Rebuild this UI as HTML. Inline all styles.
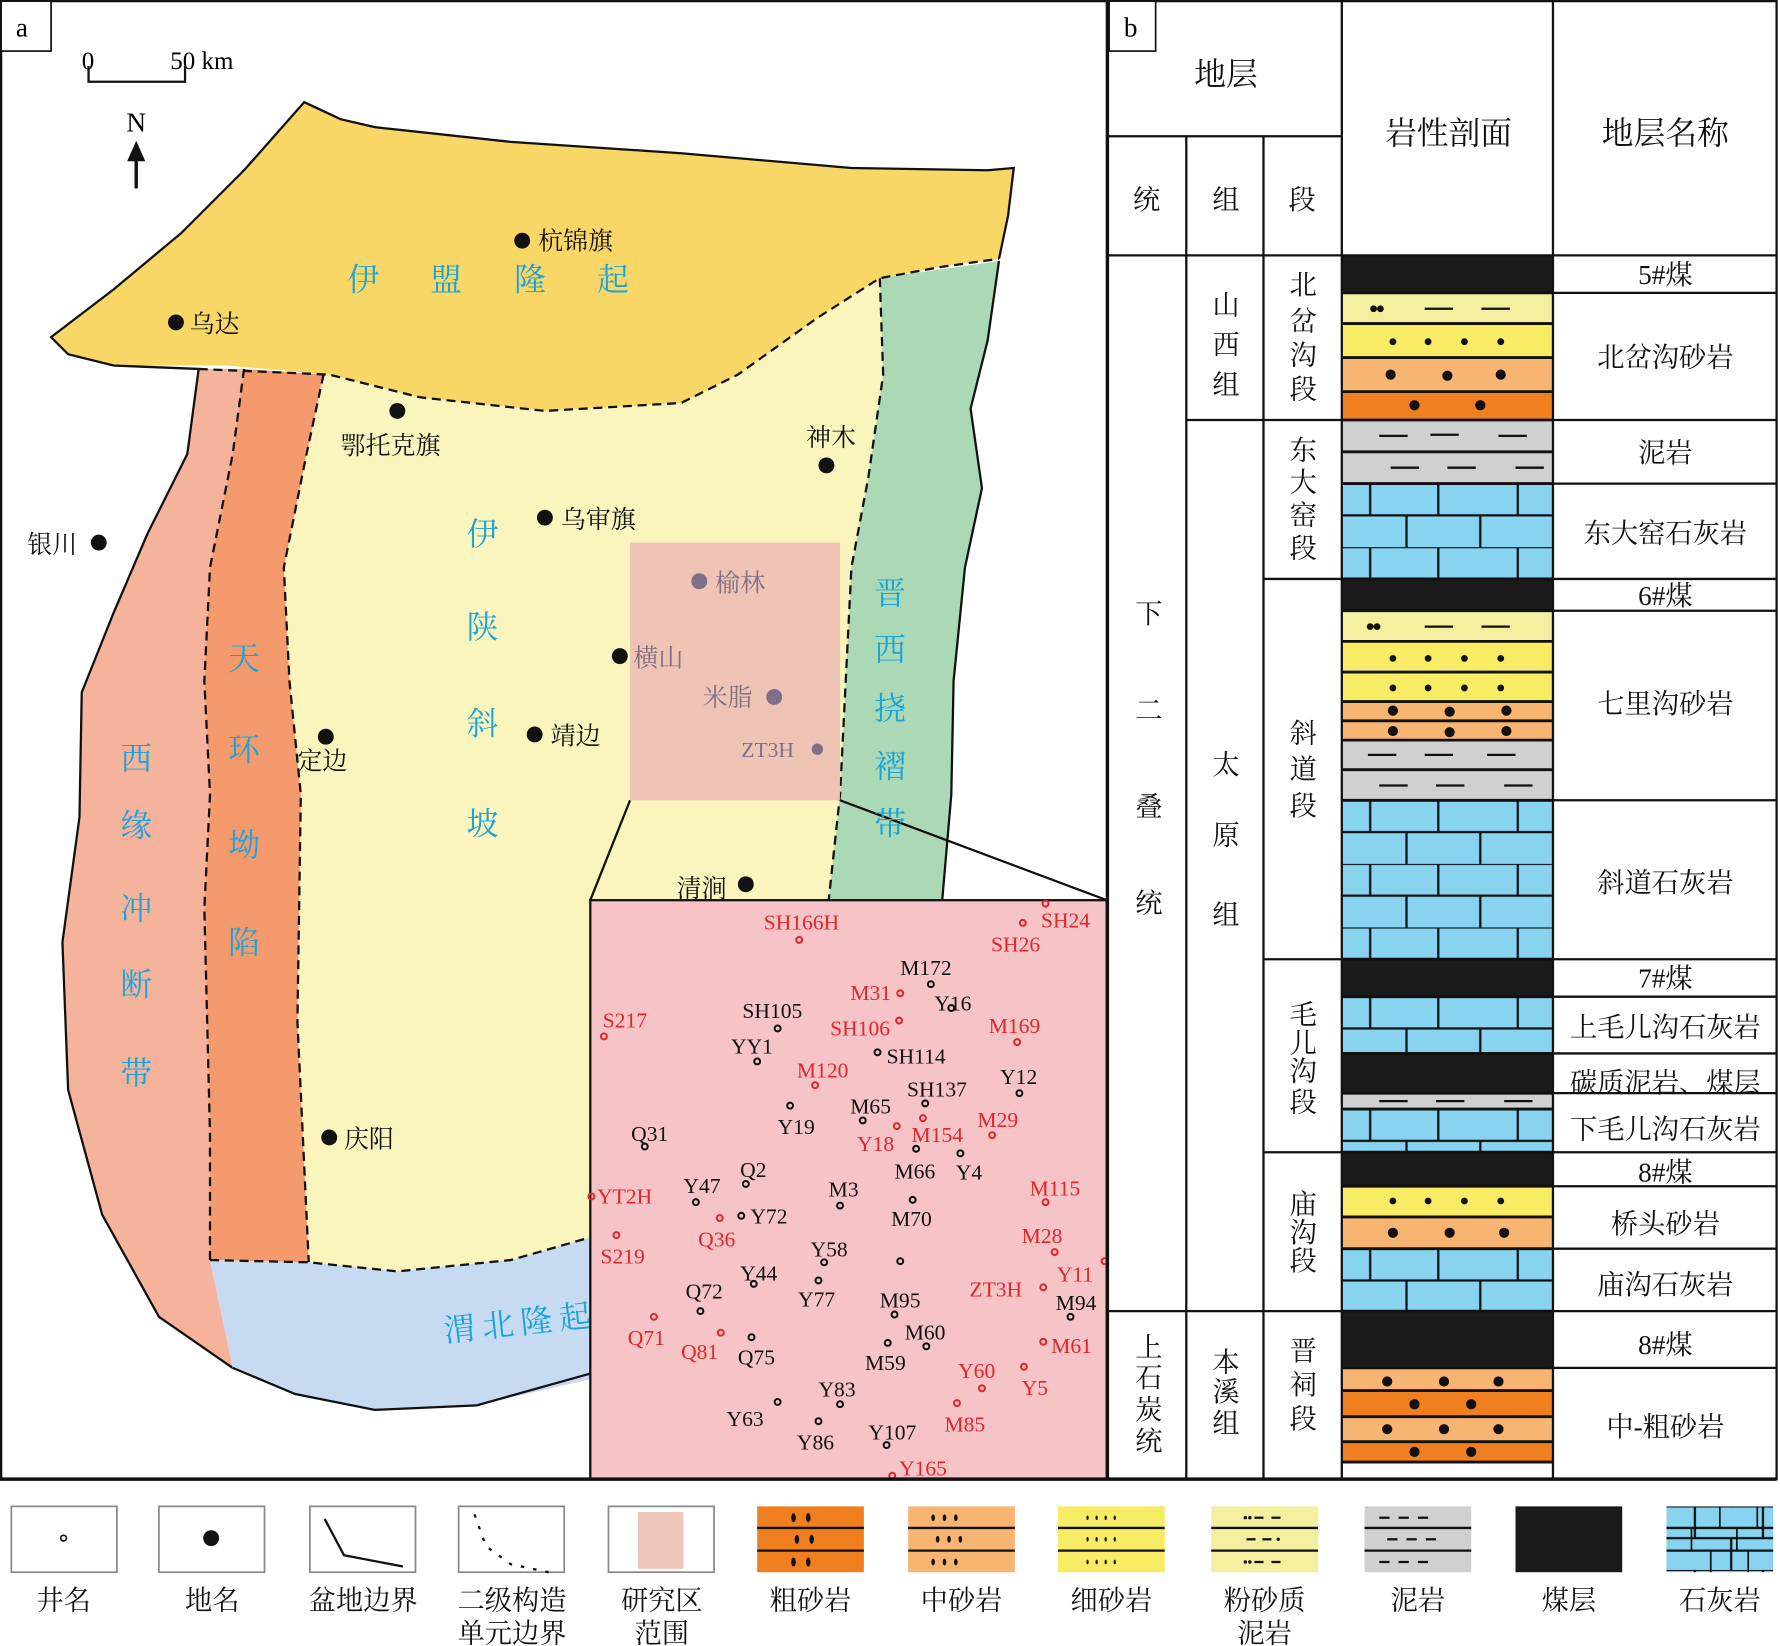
<!DOCTYPE html>
<html><head><meta charset="utf-8">
<style>
html,body{margin:0;padding:0;background:#fff;}
svg{display:block;}
text{font-family:"Liberation Serif","Noto Serif CJK SC","Noto Sans CJK SC",serif;}
.cn{font-family:"Liberation Serif","Noto Serif CJK SC",serif;}
.w{font-size:19px;}
.r{fill:#e0262a;}
.b{fill:#111;}
.bl{fill:#1aa3d9;font-size:28px;}
.pl{font-size:22px;fill:#111;}
.h{font-size:28px;fill:#111;text-anchor:middle;}
.t{font-size:24px;fill:#111;text-anchor:middle;}
.lg{font-size:24px;fill:#111;text-anchor:middle;}
</style></head>
<body>
<svg width="1780" height="1646" viewBox="0 0 1568 1450" preserveAspectRatio="none" xmlns="http://www.w3.org/2000/svg">
<defs>
<pattern id="ls" patternUnits="userSpaceOnUse" width="130" height="56">
<rect width="130" height="56" fill="#87d3f0"/>
<line x1="0" y1="28" x2="130" y2="28" stroke="#111" stroke-width="2"/>
<line x1="0" y1="0" x2="130" y2="0" stroke="#111" stroke-width="2"/>
<line x1="25" y1="0" x2="25" y2="28" stroke="#111" stroke-width="2"/>
<line x1="85" y1="0" x2="85" y2="28" stroke="#111" stroke-width="2"/>
<line x1="57" y1="28" x2="57" y2="56" stroke="#111" stroke-width="2"/>
<line x1="122" y1="28" x2="122" y2="56" stroke="#111" stroke-width="2"/>
</pattern>
</defs>
<rect width="1568" height="1450" fill="#fff"/>

<!-- MAP -->
<polygon points="175,325 290,330 370,350 480,362 600,355 650,330 720,280 775,245 880,230 870,300 855,360 865,430 850,500 840,600 838,700 830,793 520,793 520,1095 450,1110 350,1120 272,1112 185,1110" fill="#faf5bd"/>
<polygon points="775,245 880,230 870,300 855,360 865,430 850,500 840,600 838,700 830,793 730,793 740,700 745,600 750,500 765,420 778,330" fill="#acd9b5"/>
<path d="M880,230 L870,300 L855,360 L865,430 L850,500 L840,600 L838,700 L830,793" fill="none" stroke="#111" stroke-width="2"/>
<path d="M775,245 L778,330 L765,420 L750,500 L745,600 L740,700 L730,793" fill="none" stroke="#111" stroke-width="2" stroke-dasharray="8,5"/>
<polygon points="175,325 215,325 205,400 185,500 180,600 185,700 180,800 185,1000 185,1110 205,1205 140,1160 90,1070 60,960 55,830 70,720 72,610 100,540 130,470 165,400" fill="#f5b39b"/>
<path d="M175,325 L165,400 L130,470 L100,540 L72,610 L70,720 L55,830 L60,960 L90,1070 L140,1160 L205,1205" fill="none" stroke="#111" stroke-width="2"/>
<polygon points="215,325 285,330 270,400 250,500 255,600 265,700 262,900 272,1112 185,1110 185,1000 180,800 185,700 180,600 185,500 205,400" fill="#f59a6c"/>
<path d="M215,325 L205,400 L185,500 L180,600 L185,700 L180,800 L185,1000 L185,1110" fill="none" stroke="#111" stroke-width="2" stroke-dasharray="8,5"/>
<path d="M285,330 L270,400 L250,500 L255,600 L265,700 L262,900 L272,1112" fill="none" stroke="#111" stroke-width="2" stroke-dasharray="8,5"/>
<polygon points="185,1110 272,1112 350,1120 450,1110 520,1090 520,1215 420,1238 330,1242 260,1228 205,1205" fill="#c6dbf1"/>
<path d="M205,1205 L260,1228 L330,1242 L420,1238 L520,1210" fill="none" stroke="#111" stroke-width="2"/>
<path d="M185,1110 L272,1112 L350,1120 L450,1110 L520,1090" fill="none" stroke="#111" stroke-width="2" stroke-dasharray="8,5"/>
<polygon points="45,297 100,255 160,205 215,150 268,90 300,105 330,112 450,125 600,135 750,148 870,150 893,148 888,190 880,228 830,235 775,245 720,280 650,330 600,355 480,362 370,350 290,330 200,322 100,322 60,312" fill="#f9d766"/>
<path d="M880,228 L888,190 L893,148 L870,150 L750,148 L600,135 L450,125 L330,112 L300,105 L268,90 L215,150 L160,205 L100,255 L45,297 L60,312 L100,322 L175,325" fill="none" stroke="#111" stroke-width="2"/>
<path d="M175,325 L290,330 L370,350 L480,362 L600,355 L650,330 L720,280 L775,245 L830,235 L880,228" fill="none" stroke="#111" stroke-width="2" stroke-dasharray="8,5"/>

<rect x="555" y="478" width="185" height="227" fill="#eebfb4" opacity="0.9"/>
<line x1="555" y1="705" x2="520" y2="793" stroke="#111" stroke-width="2"/>
<line x1="740" y1="705" x2="975" y2="793" stroke="#111" stroke-width="2"/>

<text class="bl cn" x="320" y="256" text-anchor="middle">伊</text>
<text class="bl cn" x="393" y="256" text-anchor="middle">盟</text>
<text class="bl cn" x="467" y="256" text-anchor="middle">隆</text>
<text class="bl cn" x="540" y="256" text-anchor="middle">起</text>
<g text-anchor="middle" class="bl cn">
<text class="bl" x="425" y="480">伊</text><text class="bl" x="425" y="562">陕</text><text class="bl" x="425" y="647">斜</text><text class="bl" x="425" y="735">坡</text>
<text class="bl" x="784" y="532">晋</text><text class="bl" x="784" y="582">西</text><text class="bl" x="784" y="634">挠</text><text class="bl" x="784" y="685">褶</text><text class="bl" x="784" y="735">带</text>
<text class="bl" x="215" y="590">天</text><text class="bl" x="215" y="670">环</text><text class="bl" x="215" y="754">坳</text><text class="bl" x="215" y="840">陷</text>
<text class="bl" x="120" y="678">西</text><text class="bl" x="120" y="737">缘</text><text class="bl" x="120" y="810">冲</text><text class="bl" x="120" y="877">断</text><text class="bl" x="120" y="955">带</text>
</g>
<text class="bl cn" x="392" y="1182" transform="rotate(-6 392 1182)" letter-spacing="6">渭北隆起</text>

<g fill="#111">
<circle cx="460" cy="212" r="7"/><circle cx="155" cy="284" r="7"/><circle cx="350" cy="362" r="7"/><circle cx="728" cy="410" r="7"/>
<circle cx="480" cy="456" r="7"/><circle cx="87" cy="478" r="7"/><circle cx="546" cy="578" r="7"/><circle cx="287" cy="649" r="7"/>
<circle cx="471" cy="647" r="7"/><circle cx="657" cy="779" r="7"/><circle cx="290" cy="1002" r="7"/>
</g>
<g fill="#7d7187"><circle cx="616" cy="512" r="7"/><circle cx="682" cy="614" r="7"/><circle cx="720" cy="660" r="5"/></g>
<text class="pl cn" x="474" y="220">杭锦旗</text>
<text class="pl cn" x="167" y="293">乌达</text>
<text class="pl cn" x="300" y="400">鄂托克旗</text>
<text class="pl cn" x="710" y="393">神木</text>
<text class="pl cn" x="494" y="465">乌审旗</text>
<text class="pl cn" x="24" y="487">银川</text>
<text class="pl cn" x="630" y="521" style="fill:#7d7187">榆林</text>
<text class="pl cn" x="558" y="587" style="fill:#7d7187">横山</text>
<text class="pl cn" x="619" y="622" style="fill:#7d7187">米脂</text>
<text x="653" y="667" style="fill:#7d7187;font-size:19px">ZT3H</text>
<text class="pl cn" x="262" y="678">定边</text>
<text class="pl cn" x="485" y="656">靖边</text>
<text class="pl cn" x="596" y="790">清涧</text>
<text class="pl cn" x="303" y="1011">庆阳</text>

<text x="72" y="61" style="font-size:22px">0</text>
<text x="150" y="61" style="font-size:22px">50 km</text>
<path d="M78,58 L78,72 L163,72 L163,58" fill="none" stroke="#111" stroke-width="2"/>
<text x="120" y="116" text-anchor="middle" style="font-size:24px">N</text>
<line x1="120" y1="135" x2="120" y2="166" stroke="#111" stroke-width="3"/>
<polygon points="120,124 112,142 128,142" fill="#111"/>

<!-- inset -->
<rect x="520" y="793" width="455" height="510" fill="#f6c4c6" stroke="#111" stroke-width="2"/>
<g fill="none" stroke-width="1.8">
<g stroke="#e0262a">
<circle cx="704" cy="828" r="2.6"/><circle cx="921" cy="796" r="2.6"/><circle cx="901" cy="813" r="2.6"/><circle cx="793" cy="875" r="2.6"/>
<circle cx="532" cy="913" r="2.6"/><circle cx="792" cy="899" r="2.6"/><circle cx="896" cy="918" r="2.6"/><circle cx="718" cy="956" r="2.6"/>
<circle cx="790" cy="992" r="2.6"/><circle cx="813" cy="985" r="2.6"/><circle cx="874" cy="1000" r="2.6"/><circle cx="521" cy="1054" r="2.6"/>
<circle cx="921" cy="1059" r="2.6"/><circle cx="634" cy="1073" r="2.6"/><circle cx="543" cy="1088" r="2.6"/><circle cx="929" cy="1103" r="2.6"/>
<circle cx="973" cy="1111" r="2.6"/><circle cx="919" cy="1134" r="2.6"/><circle cx="576" cy="1160" r="2.6"/><circle cx="635" cy="1174" r="2.6"/>
<circle cx="919" cy="1182" r="2.6"/><circle cx="902" cy="1204" r="2.6"/><circle cx="865" cy="1223" r="2.6"/><circle cx="843" cy="1236" r="2.6"/>
<circle cx="786" cy="1300" r="2.6"/>
</g>
<g stroke="#111">
<circle cx="820" cy="867" r="2.6"/><circle cx="838" cy="888" r="2.6"/><circle cx="685" cy="906" r="2.6"/><circle cx="667" cy="935" r="2.6"/>
<circle cx="773" cy="927" r="2.6"/><circle cx="898" cy="963" r="2.6"/><circle cx="815" cy="972" r="2.6"/><circle cx="696" cy="974" r="2.6"/>
<circle cx="760" cy="987" r="2.6"/><circle cx="568" cy="1010" r="2.6"/><circle cx="807" cy="1012" r="2.6"/><circle cx="846" cy="1016" r="2.6"/>
<circle cx="657" cy="1043" r="2.6"/><circle cx="613" cy="1059" r="2.6"/><circle cx="740" cy="1062" r="2.6"/><circle cx="653" cy="1071" r="2.6"/>
<circle cx="804" cy="1057" r="2.6"/><circle cx="726" cy="1112" r="2.6"/><circle cx="793" cy="1111" r="2.6"/><circle cx="664" cy="1131" r="2.6"/>
<circle cx="721" cy="1128" r="2.6"/><circle cx="617" cy="1155" r="2.6"/><circle cx="788" cy="1158" r="2.6"/><circle cx="943" cy="1160" r="2.6"/>
<circle cx="662" cy="1178" r="2.6"/><circle cx="816" cy="1186" r="2.6"/><circle cx="782" cy="1183" r="2.6"/><circle cx="740" cy="1237" r="2.6"/>
<circle cx="685" cy="1235" r="2.6"/><circle cx="721" cy="1252" r="2.6"/><circle cx="781" cy="1273" r="2.6"/>
</g></g>
<g class="w">
<text class="r" x="706" y="819" text-anchor="middle">SH166H</text>
<text class="r" x="917" y="817">SH24</text>
<text class="r" x="873" y="838">SH26</text>
<text class="r" x="785" y="881" text-anchor="end">M31</text>
<text class="r" x="531" y="905">S217</text>
<text class="r" x="784" y="912" text-anchor="end">SH106</text>
<text class="r" x="871" y="910">M169</text>
<text class="r" x="702" y="949">M120</text>
<text class="r" x="755" y="1014">Y18</text>
<text class="r" x="803" y="1006">M154</text>
<text class="r" x="861" y="993">M29</text>
<text class="r" x="526" y="1060">YT2H</text>
<text class="r" x="907" y="1053">M115</text>
<text class="r" x="615" y="1098">Q36</text>
<text class="r" x="529" y="1113">S219</text>
<text class="r" x="900" y="1095">M28</text>
<text class="r" x="931" y="1129">Y11</text>
<text class="r" x="854" y="1142">ZT3H</text>
<text class="r" x="553" y="1185">Q71</text>
<text class="r" x="600" y="1197">Q81</text>
<text class="r" x="926" y="1192">M61</text>
<text class="r" x="900" y="1229">Y5</text>
<text class="r" x="844" y="1214">Y60</text>
<text class="r" x="832" y="1261">M85</text>
<text class="r" x="792" y="1300">Y165</text>
<text class="b" x="793" y="859">M172</text>
<text class="b" x="823" y="890">Y16</text>
<text class="b" x="654" y="897">SH105</text>
<text class="b" x="644" y="928">YY1</text>
<text class="b" x="781" y="937">SH114</text>
<text class="b" x="881" y="955">Y12</text>
<text class="b" x="799" y="966">SH137</text>
<text class="b" x="685" y="999">Y19</text>
<text class="b" x="749" y="981">M65</text>
<text class="b" x="556" y="1005">Q31</text>
<text class="b" x="788" y="1038">M66</text>
<text class="b" x="842" y="1039">Y4</text>
<text class="b" x="652" y="1037">Q2</text>
<text class="b" x="602" y="1051">Y47</text>
<text class="b" x="730" y="1054">M3</text>
<text class="b" x="661" y="1078">Y72</text>
<text class="b" x="785" y="1080">M70</text>
<text class="b" x="714" y="1107">Y58</text>
<text class="b" x="652" y="1128">Y44</text>
<text class="b" x="703" y="1151">Y77</text>
<text class="b" x="604" y="1144">Q72</text>
<text class="b" x="775" y="1152">M95</text>
<text class="b" x="930" y="1154">M94</text>
<text class="b" x="650" y="1202">Q75</text>
<text class="b" x="797" y="1180">M60</text>
<text class="b" x="762" y="1207">M59</text>
<text class="b" x="721" y="1230">Y83</text>
<text class="b" x="640" y="1256">Y63</text>
<text class="b" x="702" y="1277">Y86</text>
<text class="b" x="765" y="1268">Y107</text>
</g>

<rect x="1" y="1" width="974" height="1302" fill="none" stroke="#111" stroke-width="2"/>
<rect x="1" y="1" width="44" height="44" fill="#fff" stroke="#111" stroke-width="1.5"/>
<text x="14" y="32" style="font-size:24px">a</text>

<!-- RIGHT TABLE -->
<g>
<rect x="1182" y="225" width="186" height="33" fill="#1a1a1a"/>
<rect x="1182" y="258" width="186" height="27" fill="#f3ef9f"/>
<rect x="1182" y="285" width="186" height="30" fill="#f7ec64"/>
<rect x="1182" y="315" width="186" height="30" fill="#f8b572"/>
<rect x="1182" y="345" width="186" height="25" fill="#f07f1f"/>
<rect x="1182" y="370" width="186" height="56" fill="#d0d0d0"/>
<g transform="translate(1182,426)"><rect width="186" height="84" fill="url(#ls)"/></g>
<rect x="1182" y="510" width="186" height="28" fill="#1a1a1a"/>
<rect x="1182" y="538" width="186" height="27" fill="#f3ef9f"/>
<rect x="1182" y="565" width="186" height="53" fill="#f7ec64"/>
<rect x="1182" y="618" width="186" height="34" fill="#f8b572"/>
<rect x="1182" y="652" width="186" height="53" fill="#d0d0d0"/>
<g transform="translate(1182,705)"><rect width="186" height="140" fill="url(#ls)"/></g>
<rect x="1182" y="845" width="186" height="33" fill="#1a1a1a"/>
<g transform="translate(1182,878)"><rect width="186" height="50" fill="url(#ls)"/></g>
<rect x="1182" y="928" width="186" height="35" fill="#1a1a1a"/>
<rect x="1182" y="963" width="186" height="14" fill="#d0d0d0"/>
<g transform="translate(1182,977)"><rect width="186" height="38" fill="url(#ls)"/></g>
<rect x="1182" y="1015" width="186" height="30" fill="#1a1a1a"/>
<rect x="1182" y="1045" width="186" height="27" fill="#f7ec64"/>
<rect x="1182" y="1072" width="186" height="28" fill="#f8b572"/>
<g transform="translate(1182,1100)"><rect width="186" height="55" fill="url(#ls)"/></g>
<rect x="1182" y="1155" width="186" height="50" fill="#1a1a1a"/>
<rect x="1182" y="1205" width="186" height="20" fill="#f8b572"/>
<rect x="1182" y="1225" width="186" height="23" fill="#f07f1f"/>
<rect x="1182" y="1248" width="186" height="22" fill="#f8b572"/>
<rect x="1182" y="1270" width="186" height="18" fill="#f07f1f"/>
<g stroke="#111" stroke-width="2.5">
<line x1="1182" y1="258" x2="1368" y2="258"/><line x1="1182" y1="285" x2="1368" y2="285"/><line x1="1182" y1="315" x2="1368" y2="315"/><line x1="1182" y1="345" x2="1368" y2="345"/>
<line x1="1182" y1="370" x2="1368" y2="370"/><line x1="1182" y1="398" x2="1368" y2="398"/><line x1="1182" y1="426" x2="1368" y2="426"/><line x1="1182" y1="510" x2="1368" y2="510"/>
<line x1="1182" y1="538" x2="1368" y2="538"/><line x1="1182" y1="565" x2="1368" y2="565"/><line x1="1182" y1="592" x2="1368" y2="592"/><line x1="1182" y1="618" x2="1368" y2="618"/>
<line x1="1182" y1="635" x2="1368" y2="635"/><line x1="1182" y1="652" x2="1368" y2="652"/><line x1="1182" y1="678" x2="1368" y2="678"/><line x1="1182" y1="705" x2="1368" y2="705"/>
<line x1="1182" y1="845" x2="1368" y2="845"/><line x1="1182" y1="878" x2="1368" y2="878"/><line x1="1182" y1="928" x2="1368" y2="928"/><line x1="1182" y1="963" x2="1368" y2="963"/>
<line x1="1182" y1="977" x2="1368" y2="977"/><line x1="1182" y1="1015" x2="1368" y2="1015"/><line x1="1182" y1="1045" x2="1368" y2="1045"/><line x1="1182" y1="1072" x2="1368" y2="1072"/>
<line x1="1182" y1="1100" x2="1368" y2="1100"/><line x1="1182" y1="1155" x2="1368" y2="1155"/><line x1="1182" y1="1205" x2="1368" y2="1205"/><line x1="1182" y1="1225" x2="1368" y2="1225"/>
<line x1="1182" y1="1248" x2="1368" y2="1248"/><line x1="1182" y1="1270" x2="1368" y2="1270"/><line x1="1182" y1="1288" x2="1368" y2="1288"/>
</g>
<g stroke="#111" stroke-width="2">
<line x1="1255" y1="272" x2="1280" y2="272"/><line x1="1305" y1="272" x2="1330" y2="272"/>
<line x1="1255" y1="552" x2="1280" y2="552"/><line x1="1305" y1="552" x2="1330" y2="552"/>
<line x1="1215" y1="384" x2="1240" y2="384"/><line x1="1260" y1="383" x2="1285" y2="383"/><line x1="1320" y1="384" x2="1345" y2="384"/>
<line x1="1225" y1="412" x2="1250" y2="412"/><line x1="1275" y1="412" x2="1300" y2="412"/><line x1="1335" y1="412" x2="1360" y2="412"/>
<line x1="1205" y1="665" x2="1230" y2="665"/><line x1="1255" y1="665" x2="1280" y2="665"/><line x1="1310" y1="665" x2="1335" y2="665"/>
<line x1="1215" y1="692" x2="1240" y2="692"/><line x1="1265" y1="692" x2="1290" y2="692"/><line x1="1325" y1="692" x2="1350" y2="692"/>
<line x1="1215" y1="970" x2="1240" y2="970"/><line x1="1265" y1="970" x2="1290" y2="970"/><line x1="1325" y1="970" x2="1350" y2="970"/>
</g>
<g fill="#111">
<circle cx="1210" cy="272" r="3"/><circle cx="1216" cy="272" r="3"/><circle cx="1207" cy="552" r="3"/><circle cx="1213" cy="552" r="3"/>
<circle cx="1227" cy="301" r="3"/><circle cx="1258" cy="301" r="3"/><circle cx="1290" cy="301" r="3"/><circle cx="1322" cy="301" r="3"/>
<circle cx="1225" cy="330" r="4.5"/><circle cx="1275" cy="331" r="4.5"/><circle cx="1322" cy="330" r="4.5"/>
<circle cx="1246" cy="357" r="4.5"/><circle cx="1304" cy="357" r="4.5"/>
<circle cx="1227" cy="580" r="3"/><circle cx="1258" cy="580" r="3"/><circle cx="1290" cy="580" r="3"/><circle cx="1322" cy="580" r="3"/>
<circle cx="1227" cy="606" r="3"/><circle cx="1258" cy="606" r="3"/><circle cx="1290" cy="606" r="3"/><circle cx="1322" cy="606" r="3"/>
<circle cx="1227" cy="626" r="4.5"/><circle cx="1277" cy="627" r="4.5"/><circle cx="1327" cy="626" r="4.5"/>
<circle cx="1227" cy="644" r="4.5"/><circle cx="1277" cy="645" r="4.5"/><circle cx="1327" cy="644" r="4.5"/>
<circle cx="1227" cy="1058" r="3"/><circle cx="1258" cy="1058" r="3"/><circle cx="1290" cy="1058" r="3"/><circle cx="1322" cy="1058" r="3"/>
<circle cx="1227" cy="1086" r="4.5"/><circle cx="1277" cy="1086" r="4.5"/><circle cx="1325" cy="1086" r="4.5"/>
<circle cx="1222" cy="1217" r="4.5"/><circle cx="1272" cy="1217" r="4.5"/><circle cx="1320" cy="1217" r="4.5"/>
<circle cx="1246" cy="1237" r="4.5"/><circle cx="1296" cy="1237" r="4.5"/>
<circle cx="1222" cy="1259" r="4.5"/><circle cx="1272" cy="1259" r="4.5"/><circle cx="1320" cy="1259" r="4.5"/>
<circle cx="1246" cy="1279" r="4.5"/><circle cx="1296" cy="1279" r="4.5"/>
</g>
<g stroke="#111" stroke-width="2" fill="none">
<rect x="976" y="1" width="589" height="1302"/>
<line x1="1182" y1="1" x2="1182" y2="1303"/><line x1="1368" y1="1" x2="1368" y2="1303"/>
<line x1="1045" y1="120" x2="1045" y2="1303"/><line x1="1113" y1="120" x2="1113" y2="1303"/>
<line x1="976" y1="120" x2="1182" y2="120"/><line x1="976" y1="225" x2="1565" y2="225"/>
<line x1="976" y1="1155" x2="1113" y2="1155"/>
<line x1="1045" y1="370" x2="1182" y2="370"/>
<line x1="1113" y1="510" x2="1182" y2="510"/><line x1="1113" y1="845" x2="1182" y2="845"/><line x1="1113" y1="1015" x2="1182" y2="1015"/><line x1="1113" y1="1155" x2="1182" y2="1155"/>
<line x1="1368" y1="258" x2="1565" y2="258"/><line x1="1368" y1="370" x2="1565" y2="370"/><line x1="1368" y1="426" x2="1565" y2="426"/><line x1="1368" y1="510" x2="1565" y2="510"/>
<line x1="1368" y1="538" x2="1565" y2="538"/><line x1="1368" y1="705" x2="1565" y2="705"/><line x1="1368" y1="845" x2="1565" y2="845"/><line x1="1368" y1="878" x2="1565" y2="878"/>
<line x1="1368" y1="928" x2="1565" y2="928"/><line x1="1368" y1="963" x2="1565" y2="963"/><line x1="1368" y1="1015" x2="1565" y2="1015"/><line x1="1368" y1="1045" x2="1565" y2="1045"/>
<line x1="1368" y1="1100" x2="1565" y2="1100"/><line x1="1368" y1="1155" x2="1565" y2="1155"/><line x1="1368" y1="1205" x2="1565" y2="1205"/>
</g>
<line x1="0" y1="1303" x2="1565" y2="1303" stroke="#111" stroke-width="3"/>
<rect x="977" y="1" width="41" height="44" fill="#fff" stroke="#111" stroke-width="1.5"/>
<text x="990" y="32" style="font-size:24px">b</text>
<text class="h cn" x="1080" y="75">地层</text>
<text class="h cn" x="1276" y="127">岩性剖面</text>
<text class="h cn" x="1467" y="127">地层名称</text>
<text class="t cn" x="1010" y="184">统</text><text class="t cn" x="1080" y="184">组</text><text class="t cn" x="1147" y="184">段</text>
<g class="t cn">
<text class="t" x="1012" y="549">下</text><text class="t" x="1012" y="634">二</text><text class="t" x="1012" y="719">叠</text><text class="t" x="1012" y="804">统</text>
<text class="t" x="1012" y="1195">上</text><text class="t" x="1012" y="1222">石</text><text class="t" x="1012" y="1250">炭</text><text class="t" x="1012" y="1278">统</text>
<text class="t" x="1080" y="277">山</text><text class="t" x="1080" y="312">西</text><text class="t" x="1080" y="347">组</text>
<text class="t" x="1080" y="682">太</text><text class="t" x="1080" y="744">原</text><text class="t" x="1080" y="814">组</text>
<text class="t" x="1080" y="1208">本</text><text class="t" x="1080" y="1234">溪</text><text class="t" x="1080" y="1262">组</text>
<text class="t" x="1148" y="259">北</text><text class="t" x="1148" y="291">岔</text><text class="t" x="1148" y="321">沟</text><text class="t" x="1148" y="351">段</text>
<text class="t" x="1148" y="405">东</text><text class="t" x="1148" y="433">大</text><text class="t" x="1148" y="462">窑</text><text class="t" x="1148" y="491">段</text>
<text class="t" x="1148" y="654">斜</text><text class="t" x="1148" y="686">道</text><text class="t" x="1148" y="718">段</text>
<text class="t" x="1148" y="902">毛</text><text class="t" x="1148" y="927">儿</text><text class="t" x="1148" y="952">沟</text><text class="t" x="1148" y="979">段</text>
<text class="t" x="1148" y="1069">庙</text><text class="t" x="1148" y="1094">沟</text><text class="t" x="1148" y="1119">段</text>
<text class="t" x="1148" y="1198">晋</text><text class="t" x="1148" y="1228">祠</text><text class="t" x="1148" y="1258">段</text>
<text class="t" x="1467" y="250">5#煤</text>
<text class="t" x="1467" y="323">北岔沟砂岩</text>
<text class="t" x="1467" y="407">泥岩</text>
<text class="t" x="1467" y="478">东大窑石灰岩</text>
<text class="t" x="1467" y="533">6#煤</text>
<text class="t" x="1467" y="628">七里沟砂岩</text>
<text class="t" x="1467" y="786">斜道石灰岩</text>
<text class="t" x="1467" y="870">7#煤</text>
<text class="t" x="1467" y="913">上毛儿沟石灰岩</text>
<text class="t" x="1467" y="962">碳质泥岩、煤层</text>
<text class="t" x="1467" y="1003">下毛儿沟石灰岩</text>
<text class="t" x="1467" y="1041">8#煤</text>
<text class="t" x="1467" y="1086">桥头砂岩</text>
<text class="t" x="1467" y="1140">庙沟石灰岩</text>
<text class="t" x="1467" y="1193">8#煤</text>
<text class="t" x="1467" y="1265">中-粗砂岩</text>
</g>
</g>

<!-- LEGEND -->
<g stroke="#888" stroke-width="1.5" fill="#fff">
<rect x="10" y="1327" width="93" height="58"/><rect x="140" y="1327" width="93" height="58"/><rect x="273" y="1327" width="93" height="58"/><rect x="404" y="1327" width="93" height="58"/><rect x="536" y="1327" width="93" height="58"/>
</g>
<circle cx="56" cy="1355" r="2.5" fill="none" stroke="#111" stroke-width="1.5"/>
<circle cx="186" cy="1355" r="7" fill="#111"/>
<path d="M286,1338 L303,1370 L355,1380" fill="none" stroke="#111" stroke-width="2"/>
<path d="M418,1334 L428,1362 L450,1378 L488,1386" fill="none" stroke="#111" stroke-width="2" stroke-dasharray="3,8"/>
<rect x="562" y="1332" width="40" height="50" fill="#efc6ba"/>
<rect x="667" y="1327" width="94" height="58" fill="#f07f1f"/>
<rect x="800" y="1327" width="94" height="58" fill="#f8b572"/>
<rect x="932" y="1327" width="94" height="58" fill="#f7ec64"/>
<rect x="1067" y="1327" width="94" height="58" fill="#f3ef9f"/>
<rect x="1202" y="1327" width="94" height="58" fill="#d0d0d0"/>
<rect x="1335" y="1327" width="94" height="58" fill="#1a1a1a"/>
<g transform="translate(1468,1327)"><rect width="94" height="58" fill="url(#ls)"/></g>
<g stroke="#111" stroke-width="2">
<line x1="667" y1="1346" x2="761" y2="1346"/><line x1="667" y1="1366" x2="761" y2="1366"/>
<line x1="800" y1="1346" x2="894" y2="1346"/><line x1="800" y1="1366" x2="894" y2="1366"/>
<line x1="932" y1="1346" x2="1026" y2="1346"/><line x1="932" y1="1366" x2="1026" y2="1366"/>
<line x1="1067" y1="1346" x2="1161" y2="1346"/><line x1="1067" y1="1366" x2="1161" y2="1366"/>
<line x1="1202" y1="1346" x2="1296" y2="1346"/><line x1="1202" y1="1366" x2="1296" y2="1366"/>
<line x1="1468" y1="1346" x2="1562" y2="1346"/><line x1="1468" y1="1366" x2="1562" y2="1366"/>
<line x1="1105" y1="1337" x2="1113" y2="1337"/><line x1="1120" y1="1337" x2="1128" y2="1337"/>
<line x1="1098" y1="1356" x2="1106" y2="1356"/><line x1="1112" y1="1356" x2="1120" y2="1356"/>
<line x1="1105" y1="1376" x2="1113" y2="1376"/><line x1="1120" y1="1376" x2="1128" y2="1376"/>
<line x1="1215" y1="1337" x2="1224" y2="1337"/><line x1="1232" y1="1337" x2="1241" y2="1337"/><line x1="1249" y1="1337" x2="1258" y2="1337"/>
<line x1="1222" y1="1356" x2="1231" y2="1356"/><line x1="1239" y1="1356" x2="1248" y2="1356"/><line x1="1256" y1="1356" x2="1265" y2="1356"/>
<line x1="1215" y1="1376" x2="1224" y2="1376"/><line x1="1232" y1="1376" x2="1241" y2="1376"/><line x1="1249" y1="1376" x2="1258" y2="1376"/>
</g>
<g fill="#111">
<ellipse cx="699" cy="1337" rx="2" ry="4"/><ellipse cx="712" cy="1337" rx="2" ry="4"/>
<ellipse cx="702" cy="1356" rx="2" ry="4"/><ellipse cx="715" cy="1356" rx="2" ry="4"/>
<ellipse cx="699" cy="1376" rx="2" ry="4"/><ellipse cx="712" cy="1376" rx="2" ry="4"/>
<ellipse cx="822" cy="1337" rx="1.6" ry="3"/><ellipse cx="832" cy="1337" rx="1.6" ry="3"/><ellipse cx="842" cy="1337" rx="1.6" ry="3"/>
<ellipse cx="826" cy="1356" rx="1.6" ry="3"/><ellipse cx="836" cy="1356" rx="1.6" ry="3"/><ellipse cx="846" cy="1356" rx="1.6" ry="3"/>
<ellipse cx="822" cy="1376" rx="1.6" ry="3"/><ellipse cx="832" cy="1376" rx="1.6" ry="3"/><ellipse cx="842" cy="1376" rx="1.6" ry="3"/>
<ellipse cx="958" cy="1337" rx="1" ry="2"/><ellipse cx="966" cy="1337" rx="1" ry="2"/><ellipse cx="974" cy="1337" rx="1" ry="2"/><ellipse cx="982" cy="1337" rx="1" ry="2"/>
<ellipse cx="958" cy="1356" rx="1" ry="2"/><ellipse cx="966" cy="1356" rx="1" ry="2"/><ellipse cx="974" cy="1356" rx="1" ry="2"/><ellipse cx="982" cy="1356" rx="1" ry="2"/>
<ellipse cx="958" cy="1376" rx="1" ry="2"/><ellipse cx="966" cy="1376" rx="1" ry="2"/><ellipse cx="974" cy="1376" rx="1" ry="2"/><ellipse cx="982" cy="1376" rx="1" ry="2"/>
<circle cx="1097" cy="1337" r="1.5"/><circle cx="1101" cy="1337" r="1.5"/><circle cx="1126" cy="1356" r="1.5"/><circle cx="1097" cy="1376" r="1.5"/><circle cx="1101" cy="1376" r="1.5"/>
</g>
<line x1="1515" y1="1327" x2="1515" y2="1346" stroke="#111" stroke-width="1.5"/><line x1="1548" y1="1327" x2="1548" y2="1346" stroke="#111" stroke-width="1.5"/>
<line x1="1490" y1="1346" x2="1490" y2="1366" stroke="#111" stroke-width="1.5"/><line x1="1530" y1="1346" x2="1530" y2="1366" stroke="#111" stroke-width="1.5"/>
<line x1="1507" y1="1366" x2="1507" y2="1385" stroke="#111" stroke-width="1.5"/><line x1="1540" y1="1366" x2="1540" y2="1385" stroke="#111" stroke-width="1.5"/>
<g class="lg cn">
<text class="lg" x="56" y="1418">井名</text>
<text class="lg" x="187" y="1418">地名</text>
<text class="lg" x="320" y="1418">盆地边界</text>
<text class="lg" x="451" y="1418">二级构造</text>
<text class="lg" x="451" y="1447">单元边界</text>
<text class="lg" x="583" y="1418">研究区</text>
<text class="lg" x="583" y="1447">范围</text>
<text class="lg" x="714" y="1418">粗砂岩</text>
<text class="lg" x="847" y="1418">中砂岩</text>
<text class="lg" x="979" y="1418">细砂岩</text>
<text class="lg" x="1114" y="1418">粉砂质</text>
<text class="lg" x="1114" y="1447">泥岩</text>
<text class="lg" x="1249" y="1418">泥岩</text>
<text class="lg" x="1382" y="1418">煤层</text>
<text class="lg" x="1515" y="1418">石灰岩</text>
</g>
</svg>
</body></html>
